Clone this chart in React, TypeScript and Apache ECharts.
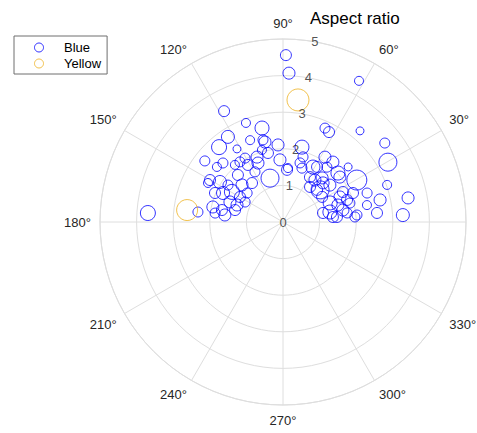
import React, { useEffect, useRef } from "react";
import * as echarts from "echarts";

const blueR = [
  3.43, 2.89, 2.63, 2.77, 2.69, 2.24, 2.11, 2.36, 1.93, 2.71,
  2.03, 1.91, 1.70, 2.30, 2.04, 1.83, 1.75, 1.25, 2.30, 2.04,
  1.81, 1.78, 1.51, 1.36, 2.02, 1.82, 1.62, 1.36, 1.26, 1.96,
  1.70, 1.55, 1.34, 1.17, 1.87, 1.60, 1.35, 2.34, 3.70, 2.31,
  2.35, 2.02, 2.31, 1.57, 2.05, 2.41, 4.56, 4.07, 4.38, 2.81,
  2.76, 3.26, 3.52, 3.30, 2.11, 1.86, 2.11, 2.13, 1.77, 1.43,
  1.68, 1.71, 2.33, 2.32, 1.98, 1.61, 1.43, 1.63, 2.01, 3.02,
  2.43, 2.72, 3.48, 3.28, 2.34, 2.07, 1.70, 1.39, 1.31, 1.37,
  1.67, 1.85, 2.03, 2.58, 1.27, 1.28, 1.44, 1.53, 1.21, 1.83,
  1.57, 1.90, 1.12, 1.48, 1.77, 1.97, 1.92, 1.34, 1.48, 1.56,
];
const blueTheta = [
  118.0, 110.5, 102.6, 122.9, 130.5, 102.7, 93.7, 122.2, 102.3, 142.0,
  120.7, 111.8, 92.8, 135.5, 130.1, 121.6, 113.0, 106.5, 150.1, 147.6,
  146.1, 133.8, 137.9, 128.5, 156.9, 154.2, 149.5, 149.8, 141.1, 167.9,
  168.9, 159.3, 159.7, 152.2, 172.5, 173.1, 166.0, 173.3, 176.2, 152.5,
  140.2, 125.6, 103.7, 119.2, 106.3, 111.9, 89.0, 87.7, 61.7, 65.9,
  62.9, 49.8, 37.8, 29.7, 75.8, 72.9, 57.1, 50.2, 58.3, 85.6,
  73.9, 61.4, 40.2, 29.6, 38.3, 48.4, 59.0, 38.2, 41.7, 19.6,
  19.0, 12.8, 10.9, 3.3, 11.4, 22.5, 23.7, 22.0, 12.0, 5.7,
  11.3, 19.0, 5.4, 5.5, 32.7, 43.3, 52.7, 44.3, 52.4, 26.6,
  17.2, 15.8, 12.7, 5.3, 8.0, 4.0, 51.3, 40.9, 84.7, 70.6,
];
const blueSize = [
  11, 9, 14, 13, 15, 12, 12, 8, 11, 10,
  10, 12, 12, 10, 9, 11, 12, 18, 11, 13,
  10, 11, 12, 11, 11, 13, 15, 11, 10, 12,
  11, 12, 12, 10, 10, 12, 11, 10, 15, 9,
  9, 10, 10, 10, 9, 9, 11, 12, 9, 10,
  11, 8, 10, 18, 14, 10, 12, 12, 11, 11,
  10, 14, 8, 20, 12, 12, 11, 12, 14, 9,
  10, 12, 12, 13, 9, 11, 12, 14, 14, 11,
  12, 11, 10, 11, 11, 11, 12, 12, 11, 11,
  12, 10, 11, 11, 10, 10, 10, 18, 9, 10,
];

const yellowR = [3.36, 2.64];
const yellowTheta = [83.0, 172.9];
const yellowSize = [22, 21];

const radiusTicks = [0, 1, 2, 3, 4, 5];
const radiusLabelAngle = 80;

const BLUE = "#0000ff";
const YELLOW = "#EDB120";
const GRID = "#dedede";
const TEXT = "#262626";
const FONT = "'Liberation Sans', Arial, Helvetica, sans-serif";

export default function App() {
  const ref = useRef<HTMLDivElement>(null);
  useEffect(() => {
    if (!ref.current) return;
    const chart = echarts.init(ref.current, null, { renderer: "svg" });
    const blueData = blueR.map((r, i) => [r, blueTheta[i], blueSize[i]]);
    const yellowData = yellowR.map((r, i) => [r, yellowTheta[i], yellowSize[i]]);
    chart.setOption({
      animation: false,
      backgroundColor: "#ffffff",
      textStyle: { fontFamily: FONT },
      title: {
        text: "Aspect ratio",
        left: 305,
        top: 5,
        textStyle: { fontFamily: FONT, fontSize: 17, fontWeight: "normal", color: "#000" },
      },
      legend: {
        orient: "vertical",
        left: 14,
        top: 36,
        padding: [5, 6, 4, 20],
        itemGap: 3,
        itemWidth: 40,
        itemHeight: 9,
        borderColor: "#6e6e6e",
        borderWidth: 1,
        icon: "circle",
        textStyle: { fontFamily: FONT, fontSize: 13, color: "#000" },
        data: [
          { name: "Blue", itemStyle: { color: "rgba(0,0,0,0)", borderColor: BLUE, borderWidth: 1 } },
          { name: "Yellow", itemStyle: { color: "rgba(0,0,0,0)", borderColor: YELLOW, borderWidth: 1 } },
        ],
      },
      polar: { center: [283, 222], radius: 183 },
      angleAxis: {
        type: "value",
        min: 0,
        max: 360,
        interval: 30,
        startAngle: 0,
        clockwise: false,
        axisLine: { show: true, lineStyle: { color: GRID, width: 1 } },
        axisTick: { show: false },
        splitLine: { show: true, lineStyle: { color: GRID, width: 1 } },
        axisLabel: {
          margin: 9,
          fontFamily: FONT,
          fontSize: 13,
          color: TEXT,
          formatter: (v: number) => (v === 360 || v === 0 ? "" : v + "°"),
        },
      },
      radiusAxis: {
        type: "value",
        min: 0,
        max: 5,
        interval: 1,
        axisLine: { show: false },
        axisTick: { show: false },
        axisLabel: { show: false },
        splitLine: { show: true, lineStyle: { color: GRID, width: 1 } },
      },
      series: [
        {
          name: "Blue",
          type: "scatter",
          coordinateSystem: "polar",
          data: blueData,
          symbol: "circle",
          symbolSize: (v: number[]) => v[2],
          itemStyle: { color: "rgba(0,0,0,0)", borderColor: BLUE, borderWidth: 1 },
          z: 3,
        },
        {
          name: "Yellow",
          type: "scatter",
          coordinateSystem: "polar",
          data: yellowData,
          symbol: "circle",
          symbolSize: (v: number[]) => v[2],
          itemStyle: { color: "rgba(0,0,0,0)", borderColor: YELLOW, borderWidth: 1 },
          z: 3,
        },
        {
          name: "rlabels",
          type: "scatter",
          coordinateSystem: "polar",
          data: radiusTicks.map((r) => [r, radiusLabelAngle]),
          symbolSize: 0,
          silent: true,
          z: 4,
          label: {
            show: true,
            position: "inside",
            formatter: (p: any) => String(p.value[0]),
            fontFamily: FONT,
            fontSize: 13,
            color: TEXT,
          },
        },
      ],
    });
    return () => chart.dispose();
  }, []);
  return (
    <div
      ref={ref}
      style={{ position: "fixed", left: 0, top: 0, width: 477, height: 433 }}
    />
  );
}
